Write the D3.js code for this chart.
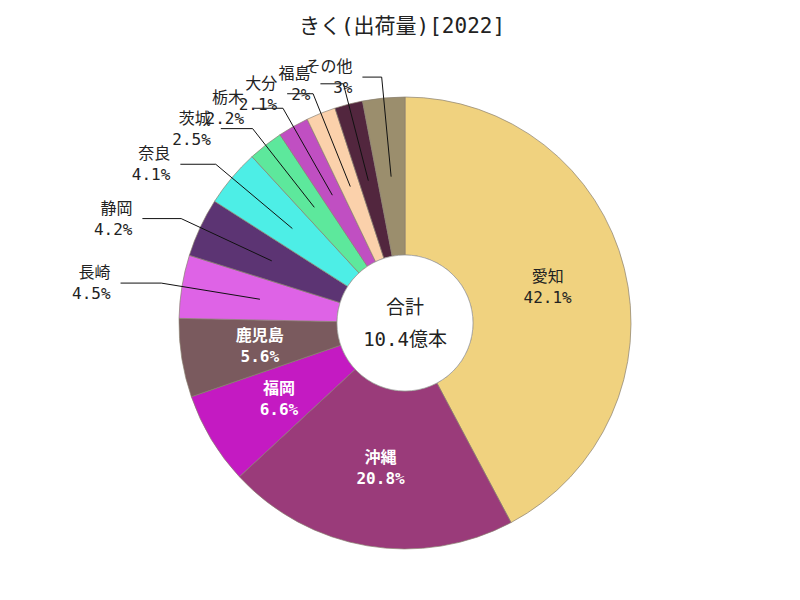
<!DOCTYPE html>
<html>
<head>
<meta charset="utf-8">
<script src="https://cdn.jsdelivr.net/npm/d3@7/dist/d3.min.js"></script>
<style>
  body { margin: 0; background: #fff; }
  svg text { font-family: "DejaVu Sans Mono", "Noto Sans CJK JP", sans-serif; }
</style>
</head>
<body>
<div id="chart"></div>
<script>
// values
const title = 'きく(出荷量)[2022]';
const categories = ['愛知', '沖縄', '福岡', '鹿児島', '長崎', '静岡', '奈良', '茨城', '栃木', '大分', '福島', 'その他'];
const shares = [42.1, 20.8, 6.6, 5.6, 4.5, 4.2, 4.1, 2.5, 2.2, 2.1, 2, 3];
const colors = ['#f0d27f', '#9a3b7a', '#c41ac2', '#7a5a5e', '#de63e6', '#5c3473',
                '#4deee6', '#5de89c', '#c04fc2', '#fbd1ab', '#52263e', '#9b8e6d'];
const centerLabel = ['合計', '10.4億本'];

const WIDTH = 800, HEIGHT = 600;
const CX = 405, CY = 323;
const R_OUT = 226, R_IN = 68;

var svg = d3.select('#chart').append('svg')
            .attr('width', WIDTH)
            .attr('height', HEIGHT);

svg.append('text')
    .attr('x', 402)
    .attr('y', 33)
    .attr('text-anchor', 'middle')
    .style('font-size', '21px')
    .attr('fill', '#222')
    .text(title);

var g = svg.append('g').attr('transform', 'translate(' + CX + ',' + CY + ')');

var data = categories.map(function (c, i) {
    return { name: c, value: shares[i], color: colors[i] };
});

var pie = d3.pie().sort(null).value(function (d) { return d.value; });
var arc = d3.arc().innerRadius(R_IN).outerRadius(R_OUT);
var arcs = pie(data);

g.selectAll('path.slice').data(arcs).enter()
    .append('path')
    .attr('class', 'slice')
    .attr('d', arc)
    .attr('fill', function (d) { return d.data.color; })
    .attr('stroke', '#8a8070')
    .attr('stroke-width', 0.7);

// white hole
g.append('circle')
    .attr('r', R_IN)
    .attr('fill', '#fff')
    .attr('stroke', '#999')
    .attr('stroke-width', 0.7);

g.append('text')
    .attr('y', -9)
    .attr('text-anchor', 'middle')
    .style('font-size', '19px')
    .attr('fill', '#222')
    .text(centerLabel[0]);
g.append('text')
    .attr('y', 23)
    .attr('text-anchor', 'middle')
    .style('font-size', '19px')
    .attr('fill', '#222')
    .text(centerLabel[1]);

function mid (d) { return (d.startAngle + d.endAngle) / 2; }

function isDark (hex) {
    var c = d3.rgb(hex);
    return (0.299 * c.r + 0.587 * c.g + 0.114 * c.b) < 150;
}

// big slices: label inside
var inside = arcs.filter(function (d) { return d.data.value >= 5; });
var outside = arcs.filter(function (d) { return d.data.value < 5; });

var inLabels = g.selectAll('g.inlabel').data(inside).enter()
    .append('g')
    .attr('class', 'inlabel')
    .attr('transform', function (d) {
        var c = arc.centroid(d);
        return 'translate(' + c[0] + ',' + c[1] + ')';
    });

inLabels.each(function (d) {
    var dark = isDark(d.data.color);
    var el = d3.select(this);
    el.append('text')
        .attr('y', -5)
        .attr('text-anchor', 'middle')
        .style('font-size', '16px')
        .style('font-weight', dark ? 'bold' : 'normal')
        .attr('fill', dark ? '#fff' : '#222')
        .text(d.data.name);
    el.append('text')
        .attr('y', 16)
        .attr('text-anchor', 'middle')
        .style('font-size', '16px')
        .style('font-weight', dark ? 'bold' : 'normal')
        .attr('fill', dark ? '#fff' : '#222')
        .text(d.data.value + '%');
});

// small slices: leader line + label to the left
var R_ELBOW = R_OUT + 21;
outside.forEach(function (d) {
    var a = mid(d);
    var s = Math.sin(a), c = Math.cos(a);
    var p0 = arc.centroid(d);
    var p1 = [R_ELBOW * s, -R_ELBOW * c];
    var len2 = 17 + 24 * Math.abs(s);
    var p2 = [p1[0] - len2, p1[1]];

    g.append('polyline')
        .attr('points', [p0, p1, p2].map(function (p) { return p.join(','); }).join(' '))
        .attr('fill', 'none')
        .attr('stroke', '#111')
        .attr('stroke-width', 1);

    var tx = p2[0] - 10;
    g.append('text')
        .attr('x', tx)
        .attr('y', p2[1] - 5)
        .attr('text-anchor', 'end')
        .style('font-size', '16px')
        .attr('fill', '#222')
        .text(d.data.name);
    g.append('text')
        .attr('x', tx)
        .attr('y', p2[1] + 16)
        .attr('text-anchor', 'end')
        .style('font-size', '16px')
        .attr('fill', '#222')
        .text(d.data.value + '%');
});
</script>
</body>
</html>
